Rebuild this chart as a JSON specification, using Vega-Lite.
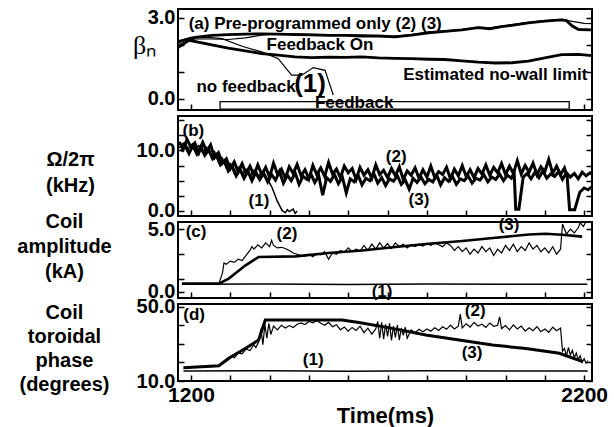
{
"$schema": "https://vega.github.io/schema/vega-lite/v6.json",
"background": "white",
"padding": {"left": 15, "top": 6, "right": 5, "bottom": 0},
"spacing": 6,
"bounds": "flush",
"config": {
 "font": "Liberation Sans",
 "view": {"stroke": "black", "strokeWidth": 2},
 "axis": {"grid": false, "domain": false, "tickColor": "black", "tickSize": -6, "tickWidth": 1.5, "labelColor": "black", "labelFont": "Liberation Sans", "labelFontWeight": "bold", "labelFontSize": 20, "labelPadding": 9, "labelOverlap": false, "labelFlush": false, "titleColor": "black", "titleFont": "Liberation Sans", "titleFontWeight": "bold", "titleFontSize": 20}
},
"datasets": {
 "afb": [{"start": 1274, "end": 2162, "top": -0.1, "bottom": -0.38}],
 "a1": [{"t":1167,"v":2.15},{"t":1200,"v":2.28},{"t":1250,"v":2.27},{"t":1279,"v":2.23},{"t":1330,"v":1.95},{"t":1380,"v":1.74},{"t":1422,"v":1.49},{"t":1456,"v":0.88},{"t":1482,"v":0.88},{"t":1511,"v":1.16},{"t":1541,"v":1.06},{"t":1562,"v":0.14}],
 "a2": [{"t":1167,"v":2.0},{"t":1190,"v":2.12},{"t":1210,"v":2.22},{"t":1253,"v":2.22},{"t":1295,"v":2.2},{"t":1338,"v":2.26},{"t":1380,"v":2.36},{"t":1422,"v":2.42},{"t":1465,"v":2.41},{"t":1507,"v":2.39},{"t":1550,"v":2.38},{"t":1592,"v":2.37},{"t":1634,"v":2.36},{"t":1677,"v":2.34},{"t":1719,"v":2.33},{"t":1761,"v":2.38},{"t":1804,"v":2.47},{"t":1846,"v":2.52},{"t":1889,"v":2.57},{"t":1931,"v":2.66},{"t":1960,"v":2.62},{"t":1990,"v":2.7},{"t":2016,"v":2.75},{"t":2058,"v":2.84},{"t":2100,"v":2.9},{"t":2143,"v":2.95},{"t":2170,"v":2.87},{"t":2200,"v":2.8},{"t":2220,"v":2.79}],
 "a3": [{"t":1167,"v":2.1},{"t":1190,"v":2.2},{"t":1210,"v":2.28},{"t":1253,"v":2.35},{"t":1295,"v":2.38},{"t":1338,"v":2.4},{"t":1380,"v":2.41},{"t":1422,"v":2.4},{"t":1465,"v":2.38},{"t":1507,"v":2.37},{"t":1550,"v":2.35},{"t":1592,"v":2.35},{"t":1634,"v":2.33},{"t":1677,"v":2.33},{"t":1719,"v":2.3},{"t":1761,"v":2.36},{"t":1804,"v":2.45},{"t":1846,"v":2.5},{"t":1889,"v":2.56},{"t":1931,"v":2.64},{"t":1960,"v":2.6},{"t":1990,"v":2.68},{"t":2016,"v":2.72},{"t":2058,"v":2.82},{"t":2100,"v":2.88},{"t":2143,"v":2.93},{"t":2155,"v":2.9},{"t":2170,"v":2.7},{"t":2186,"v":2.57},{"t":2220,"v":2.56}],
 "alim": [{"t":1167,"v":1.9},{"t":1195,"v":2.17},{"t":1253,"v":2.0},{"t":1295,"v":1.88},{"t":1338,"v":1.78},{"t":1380,"v":1.68},{"t":1422,"v":1.62},{"t":1465,"v":1.56},{"t":1507,"v":1.53},{"t":1550,"v":1.55},{"t":1592,"v":1.54},{"t":1634,"v":1.56},{"t":1677,"v":1.52},{"t":1719,"v":1.5},{"t":1761,"v":1.49},{"t":1804,"v":1.47},{"t":1846,"v":1.46},{"t":1889,"v":1.41},{"t":1931,"v":1.36},{"t":1974,"v":1.33},{"t":2016,"v":1.34},{"t":2058,"v":1.4},{"t":2100,"v":1.52},{"t":2143,"v":1.64},{"t":2186,"v":1.65},{"t":2220,"v":1.6}],
 "anA": [{"t":1516,"v":2.78,"label":"(a) Pre-programmed only (2) (3)"},{"t":1528,"v":1.98,"label":"Feedback On"},{"t":1340,"v":0.44,"label":"no feedback"},{"t":1974,"v":0.89,"label":"Estimated no-wall limit"},{"t":1615,"v":-0.15,"label":"Feedback"}],
 "anA1": [{"t":1503,"v":0.56,"label":"(1)"}],
 "b1": [{"t":1170,"v":10.4},{"t":1180,"v":11.2},{"t":1190,"v":9.9},{"t":1200,"v":11.0},{"t":1210,"v":10.1},{"t":1220,"v":10.8},{"t":1230,"v":9.6},{"t":1240,"v":10.5},{"t":1250,"v":9.2},{"t":1260,"v":9.8},{"t":1270,"v":8.0},{"t":1280,"v":8.7},{"t":1290,"v":7.1},{"t":1300,"v":7.8},{"t":1310,"v":6.2},{"t":1320,"v":7.2},{"t":1330,"v":5.9},{"t":1340,"v":6.9},{"t":1350,"v":5.6},{"t":1360,"v":6.7},{"t":1370,"v":5.5},{"t":1380,"v":6.4},{"t":1390,"v":5.8},{"t":1406,"v":3.9},{"t":1419,"v":1.7},{"t":1432,"v":0.05},{"t":1440,"v":-0.3},{"t":1445,"v":0.2},{"t":1450,"v":-0.1},{"t":1460,"v":0.3},{"t":1465,"v":-0.4},{"t":1470,"v":0.0}],
 "b2": [{"t":1170,"v":11.4},{"t":1180,"v":10.2},{"t":1190,"v":11.8},{"t":1200,"v":10.5},{"t":1210,"v":11.2},{"t":1220,"v":9.6},{"t":1230,"v":11.3},{"t":1240,"v":9.8},{"t":1250,"v":10.9},{"t":1260,"v":8.8},{"t":1270,"v":9.6},{"t":1280,"v":7.9},{"t":1290,"v":8.6},{"t":1300,"v":7.0},{"t":1310,"v":8.1},{"t":1320,"v":6.5},{"t":1330,"v":7.8},{"t":1340,"v":6.2},{"t":1350,"v":7.4},{"t":1360,"v":5.9},{"t":1370,"v":7.6},{"t":1380,"v":6.0},{"t":1390,"v":7.2},{"t":1400,"v":5.6},{"t":1410,"v":7.9},{"t":1420,"v":6.1},{"t":1430,"v":6.9},{"t":1440,"v":5.4},{"t":1450,"v":7.3},{"t":1460,"v":6.2},{"t":1470,"v":7.7},{"t":1480,"v":5.8},{"t":1490,"v":6.8},{"t":1500,"v":5.3},{"t":1510,"v":7.5},{"t":1520,"v":6.0},{"t":1530,"v":7.1},{"t":1540,"v":5.7},{"t":1550,"v":8.0},{"t":1560,"v":6.1},{"t":1570,"v":6.9},{"t":1580,"v":5.5},{"t":1590,"v":7.4},{"t":1600,"v":6.3},{"t":1610,"v":7.0},{"t":1620,"v":5.2},{"t":1630,"v":7.2},{"t":1640,"v":5.9},{"t":1650,"v":6.8},{"t":1660,"v":5.4},{"t":1670,"v":7.6},{"t":1680,"v":6.0},{"t":1690,"v":6.7},{"t":1700,"v":5.5},{"t":1710,"v":7.0},{"t":1720,"v":5.8},{"t":1730,"v":7.3},{"t":1740,"v":5.2},{"t":1750,"v":6.6},{"t":1760,"v":5.9},{"t":1770,"v":7.1},{"t":1780,"v":5.4},{"t":1790,"v":6.8},{"t":1800,"v":5.6},{"t":1810,"v":7.4},{"t":1820,"v":5.5},{"t":1830,"v":6.5},{"t":1840,"v":6.0},{"t":1850,"v":7.2},{"t":1860,"v":5.3},{"t":1870,"v":6.9},{"t":1880,"v":5.8},{"t":1890,"v":7.5},{"t":1900,"v":5.7},{"t":1910,"v":6.8},{"t":1920,"v":5.5},{"t":1930,"v":7.0},{"t":1940,"v":6.1},{"t":1950,"v":7.6},{"t":1960,"v":5.9},{"t":1970,"v":7.2},{"t":1980,"v":6.3},{"t":1990,"v":7.8},{"t":2000,"v":6.0},{"t":2010,"v":7.4},{"t":2020,"v":6.2},{"t":2030,"v":8.3},{"t":2040,"v":6.1},{"t":2050,"v":7.5},{"t":2060,"v":6.4},{"t":2070,"v":7.9},{"t":2080,"v":6.0},{"t":2090,"v":7.3},{"t":2100,"v":6.5},{"t":2110,"v":8.5},{"t":2120,"v":6.2},{"t":2130,"v":7.4},{"t":2140,"v":6.0},{"t":2150,"v":7.1},{"t":2157,"v":5.5},{"t":2163,"v":0.2},{"t":2176,"v":0.2},{"t":2189,"v":3.1},{"t":2200,"v":3.8},{"t":2210,"v":3.5},{"t":2220,"v":4.0}],
 "b3": [{"t":1175,"v":9.8},{"t":1185,"v":11.0},{"t":1195,"v":9.5},{"t":1205,"v":10.8},{"t":1215,"v":9.4},{"t":1225,"v":10.6},{"t":1235,"v":9.2},{"t":1245,"v":10.1},{"t":1255,"v":8.6},{"t":1265,"v":9.3},{"t":1275,"v":7.6},{"t":1285,"v":8.2},{"t":1295,"v":6.6},{"t":1305,"v":7.4},{"t":1315,"v":5.8},{"t":1325,"v":6.9},{"t":1335,"v":5.4},{"t":1345,"v":6.6},{"t":1355,"v":5.0},{"t":1365,"v":6.4},{"t":1375,"v":5.2},{"t":1385,"v":6.2},{"t":1395,"v":4.8},{"t":1405,"v":6.0},{"t":1415,"v":5.1},{"t":1425,"v":6.5},{"t":1435,"v":4.6},{"t":1445,"v":5.9},{"t":1455,"v":5.0},{"t":1465,"v":6.3},{"t":1475,"v":4.4},{"t":1485,"v":5.7},{"t":1495,"v":5.2},{"t":1505,"v":6.1},{"t":1515,"v":4.7},{"t":1525,"v":5.8},{"t":1535,"v":2.6},{"t":1545,"v":5.5},{"t":1555,"v":4.9},{"t":1565,"v":6.0},{"t":1575,"v":4.5},{"t":1585,"v":5.6},{"t":1595,"v":3.0},{"t":1605,"v":5.3},{"t":1615,"v":4.8},{"t":1625,"v":5.9},{"t":1635,"v":4.3},{"t":1645,"v":5.4},{"t":1655,"v":5.0},{"t":1665,"v":6.2},{"t":1675,"v":4.6},{"t":1685,"v":5.5},{"t":1695,"v":4.2},{"t":1705,"v":5.3},{"t":1715,"v":4.9},{"t":1725,"v":5.8},{"t":1735,"v":4.4},{"t":1745,"v":5.1},{"t":1755,"v":3.6},{"t":1765,"v":5.4},{"t":1775,"v":4.7},{"t":1785,"v":5.6},{"t":1795,"v":4.5},{"t":1805,"v":5.2},{"t":1815,"v":4.8},{"t":1825,"v":5.9},{"t":1835,"v":4.3},{"t":1845,"v":5.5},{"t":1855,"v":4.9},{"t":1865,"v":5.7},{"t":1875,"v":4.4},{"t":1885,"v":5.3},{"t":1895,"v":5.0},{"t":1905,"v":5.8},{"t":1915,"v":4.6},{"t":1925,"v":5.4},{"t":1935,"v":5.1},{"t":1945,"v":6.0},{"t":1955,"v":4.8},{"t":1965,"v":5.6},{"t":1975,"v":5.2},{"t":1985,"v":6.1},{"t":1995,"v":5.0},{"t":2005,"v":5.9},{"t":2015,"v":5.4},{"t":2022,"v":6.3},{"t":2026,"v":0.3},{"t":2034,"v":0.3},{"t":2045,"v":5.6},{"t":2055,"v":6.2},{"t":2065,"v":5.3},{"t":2075,"v":6.4},{"t":2085,"v":5.5},{"t":2095,"v":6.6},{"t":2105,"v":5.4},{"t":2115,"v":6.1},{"t":2125,"v":5.7},{"t":2135,"v":6.5},{"t":2145,"v":5.2},{"t":2155,"v":6.3},{"t":2165,"v":5.6},{"t":2175,"v":6.2},{"t":2185,"v":5.3},{"t":2195,"v":6.4},{"t":2205,"v":5.8},{"t":2215,"v":6.3},{"t":2220,"v":6.1}],
 "anB": [{"t":1206,"v":13.25,"label":"(b)"},{"t":1722,"v":8.9,"label":"(2)"},{"t":1373,"v":1.67,"label":"(1)"},{"t":1780,"v":1.75,"label":"(3)"}],
 "c1": [{"t":1177,"v":0.62},{"t":1400,"v":0.64},{"t":1600,"v":0.6},{"t":1800,"v":0.63},{"t":2000,"v":0.61},{"t":2208,"v":0.62}],
 "c2": [{"t":1177,"v":0.66},{"t":1271,"v":0.66},{"t":1280,"v":1.5},{"t":1284,"v":2.3},{"t":1290,"v":2.2},{"t":1300,"v":2.45},{"t":1310,"v":2.35},{"t":1320,"v":2.6},{"t":1330,"v":2.5},{"t":1340,"v":2.9},{"t":1350,"v":3.3},{"t":1355,"v":3.6},{"t":1360,"v":3.4},{"t":1370,"v":3.75},{"t":1380,"v":3.5},{"t":1390,"v":3.9},{"t":1400,"v":3.6},{"t":1405,"v":4.1},{"t":1410,"v":3.7},{"t":1420,"v":3.5},{"t":1430,"v":3.55},{"t":1440,"v":3.45},{"t":1450,"v":3.3},{"t":1460,"v":3.1},{"t":1470,"v":3.0},{"t":1480,"v":2.9},{"t":1490,"v":2.85},{"t":1500,"v":3.0},{"t":1510,"v":2.8},{"t":1520,"v":3.05},{"t":1530,"v":2.95},{"t":1540,"v":3.2},{"t":1550,"v":2.6},{"t":1560,"v":3.1},{"t":1570,"v":3.0},{"t":1580,"v":3.3},{"t":1590,"v":3.15},{"t":1600,"v":3.5},{"t":1610,"v":3.2},{"t":1620,"v":3.4},{"t":1630,"v":3.25},{"t":1640,"v":3.7},{"t":1650,"v":3.3},{"t":1660,"v":3.8},{"t":1670,"v":3.4},{"t":1680,"v":3.9},{"t":1690,"v":3.5},{"t":1700,"v":3.85},{"t":1710,"v":3.45},{"t":1720,"v":3.9},{"t":1730,"v":3.6},{"t":1740,"v":3.8},{"t":1750,"v":3.5},{"t":1760,"v":3.75},{"t":1770,"v":3.6},{"t":1780,"v":3.8},{"t":1790,"v":3.65},{"t":1800,"v":3.85},{"t":1810,"v":3.7},{"t":1820,"v":3.9},{"t":1830,"v":3.75},{"t":1840,"v":3.6},{"t":1850,"v":3.9},{"t":1860,"v":3.7},{"t":1870,"v":3.3},{"t":1880,"v":3.6},{"t":1890,"v":3.2},{"t":1900,"v":3.5},{"t":1910,"v":3.0},{"t":1920,"v":3.4},{"t":1930,"v":3.1},{"t":1940,"v":3.6},{"t":1950,"v":3.2},{"t":1960,"v":3.5},{"t":1970,"v":2.9},{"t":1980,"v":3.4},{"t":1990,"v":3.1},{"t":2000,"v":3.7},{"t":2010,"v":3.3},{"t":2020,"v":3.8},{"t":2030,"v":3.2},{"t":2040,"v":3.6},{"t":2050,"v":3.3},{"t":2060,"v":3.9},{"t":2070,"v":3.4},{"t":2080,"v":3.7},{"t":2090,"v":3.2},{"t":2100,"v":3.5},{"t":2110,"v":3.1},{"t":2120,"v":3.6},{"t":2130,"v":3.0},{"t":2140,"v":3.4},{"t":2145,"v":5.4},{"t":2155,"v":4.6},{"t":2165,"v":5.0},{"t":2175,"v":4.7},{"t":2185,"v":5.1},{"t":2190,"v":5.5},{"t":2198,"v":5.2},{"t":2205,"v":5.6}],
 "c3": [{"t":1177,"v":0.66},{"t":1271,"v":0.66},{"t":1296,"v":1.06},{"t":1338,"v":2.1},{"t":1372,"v":2.78},{"t":1466,"v":2.83},{"t":1550,"v":3.1},{"t":1635,"v":3.3},{"t":1720,"v":3.57},{"t":1805,"v":3.83},{"t":1890,"v":4.05},{"t":1975,"v":4.31},{"t":2060,"v":4.57},{"t":2102,"v":4.63},{"t":2144,"v":4.55},{"t":2195,"v":4.4}],
 "anC": [{"t":1213,"v":4.76,"label":"(c)"},{"t":1444,"v":4.63,"label":"(2)"},{"t":2009,"v":5.36,"label":"(3)"},{"t":1686,"v":0.0,"label":"(1)"}],
 "d1": [{"t":1181,"v":15.4},{"t":1400,"v":15.5},{"t":1600,"v":15.3},{"t":1800,"v":15.5},{"t":2000,"v":15.4},{"t":2209,"v":15.4}],
 "d2": [{"t":1181,"v":17.0},{"t":1271,"v":18.0},{"t":1280,"v":19.5},{"t":1290,"v":20.8},{"t":1296,"v":21.5},{"t":1305,"v":23.5},{"t":1310,"v":22.4},{"t":1320,"v":25.0},{"t":1330,"v":24.6},{"t":1340,"v":27.2},{"t":1350,"v":26.4},{"t":1360,"v":29.5},{"t":1365,"v":28.0},{"t":1372,"v":31.0},{"t":1378,"v":38.0},{"t":1383,"v":29.5},{"t":1388,"v":40.5},{"t":1393,"v":33.0},{"t":1398,"v":41.0},{"t":1403,"v":35.0},{"t":1410,"v":39.5},{"t":1420,"v":37.5},{"t":1430,"v":40.0},{"t":1440,"v":38.5},{"t":1450,"v":39.8},{"t":1460,"v":38.8},{"t":1470,"v":40.5},{"t":1480,"v":41.2},{"t":1490,"v":40.4},{"t":1500,"v":42.0},{"t":1510,"v":41.3},{"t":1520,"v":42.5},{"t":1530,"v":41.0},{"t":1540,"v":40.0},{"t":1550,"v":41.5},{"t":1560,"v":39.2},{"t":1570,"v":40.3},{"t":1580,"v":37.5},{"t":1590,"v":39.0},{"t":1600,"v":36.8},{"t":1610,"v":38.8},{"t":1620,"v":37.2},{"t":1630,"v":39.5},{"t":1640,"v":36.0},{"t":1650,"v":38.4},{"t":1660,"v":35.2},{"t":1670,"v":38.0},{"t":1675,"v":42.0},{"t":1680,"v":33.0},{"t":1685,"v":41.5},{"t":1690,"v":32.5},{"t":1695,"v":40.5},{"t":1700,"v":34.0},{"t":1705,"v":41.0},{"t":1710,"v":31.8},{"t":1715,"v":39.5},{"t":1720,"v":33.5},{"t":1725,"v":40.0},{"t":1730,"v":32.0},{"t":1735,"v":38.5},{"t":1740,"v":34.5},{"t":1745,"v":39.0},{"t":1750,"v":33.0},{"t":1760,"v":37.5},{"t":1770,"v":36.0},{"t":1780,"v":37.8},{"t":1790,"v":36.5},{"t":1800,"v":38.0},{"t":1810,"v":36.8},{"t":1820,"v":38.6},{"t":1830,"v":37.2},{"t":1840,"v":39.2},{"t":1850,"v":37.8},{"t":1860,"v":40.0},{"t":1870,"v":38.0},{"t":1880,"v":39.5},{"t":1885,"v":46.0},{"t":1890,"v":38.5},{"t":1900,"v":40.8},{"t":1910,"v":39.0},{"t":1920,"v":41.5},{"t":1930,"v":39.6},{"t":1940,"v":40.5},{"t":1950,"v":38.8},{"t":1960,"v":41.2},{"t":1970,"v":39.4},{"t":1980,"v":40.0},{"t":1985,"v":44.5},{"t":1990,"v":38.2},{"t":2000,"v":39.8},{"t":2010,"v":37.5},{"t":2020,"v":40.2},{"t":2030,"v":38.0},{"t":2040,"v":39.5},{"t":2050,"v":36.8},{"t":2060,"v":38.6},{"t":2070,"v":37.0},{"t":2080,"v":39.2},{"t":2090,"v":36.5},{"t":2100,"v":38.0},{"t":2110,"v":36.2},{"t":2120,"v":39.0},{"t":2130,"v":37.0},{"t":2140,"v":38.5},{"t":2145,"v":26.0},{"t":2150,"v":27.5},{"t":2155,"v":23.5},{"t":2160,"v":28.0},{"t":2165,"v":24.0},{"t":2170,"v":26.5},{"t":2175,"v":22.5},{"t":2180,"v":25.0},{"t":2185,"v":21.5},{"t":2190,"v":23.5},{"t":2195,"v":20.0},{"t":2200,"v":22.0},{"t":2205,"v":19.5},{"t":2210,"v":21.0}],
 "d3": [{"t":1181,"v":17.1},{"t":1271,"v":18.2},{"t":1296,"v":22.2},{"t":1338,"v":27.5},{"t":1372,"v":32.0},{"t":1389,"v":42.8},{"t":1584,"v":42.8},{"t":1627,"v":41.5},{"t":1712,"v":38.3},{"t":1797,"v":34.7},{"t":1882,"v":32.0},{"t":1967,"v":29.3},{"t":2052,"v":27.5},{"t":2137,"v":24.9},{"t":2196,"v":20.4}],
 "anD": [{"t":1208,"v":45.4,"label":"(d)"},{"t":1511,"v":21.3,"label":"(1)"},{"t":1923,"v":47.6,"label":"(2)"},{"t":1915,"v":24.8,"label":"(3)"}]
},
"vconcat": [
 {
  "width": 414, "height": 101,
  "resolve": {"axis": {"y": "independent"}},
  "layer": [
   {"data": {"name": "afb"}, "mark": {"type": "rect", "fill": "white", "stroke": "black", "strokeWidth": 1.3},
    "encoding": {
     "x": {"field": "start", "type": "quantitative", "scale": {"domain": [1167, 2220], "nice": false, "zero": false},
           "axis": {"values": [1200,1300,1400,1500,1600,1700,1800,1900,2000,2100,2200], "labels": false, "title": null}},
     "x2": {"field": "end"},
     "y": {"field": "top", "type": "quantitative", "scale": {"domain": [-0.41, 3.33], "nice": false, "zero": false},
           "axis": {"values": [0,1,2,3], "labelOverlap": false, "labelExpr": "datum.value == 0 || datum.value == 3 ? format(datum.value, '.1f') : ''",
                    "title": "βₙ", "titleFont": "Liberation Serif", "titleFontWeight": "normal", "titleFontSize": 26, "titleAngle": 0, "titleAlign": "center", "titleBaseline": "middle", "titleX": -34, "titleY": 36}},
     "y2": {"field": "bottom"}
    }},
   {"data": {"name": "alim"}, "mark": {"type": "line", "color": "black", "strokeWidth": 2.8, "clip": true}, "encoding": {"x": {"field": "t", "type": "quantitative"}, "y": {"field": "v", "type": "quantitative", "axis": null}}},
   {"data": {"name": "a3"}, "mark": {"type": "line", "color": "black", "strokeWidth": 2.8, "clip": true}, "encoding": {"x": {"field": "t", "type": "quantitative"}, "y": {"field": "v", "type": "quantitative", "axis": null}}},
   {"data": {"name": "a2"}, "mark": {"type": "line", "color": "black", "strokeWidth": 1.2, "clip": true}, "encoding": {"x": {"field": "t", "type": "quantitative"}, "y": {"field": "v", "type": "quantitative", "axis": null}}},
   {"data": {"name": "a1"}, "mark": {"type": "line", "color": "black", "strokeWidth": 1.2, "clip": true}, "encoding": {"x": {"field": "t", "type": "quantitative"}, "y": {"field": "v", "type": "quantitative", "axis": null}}},
   {"data": {"name": "anA"}, "mark": {"type": "text", "font": "Liberation Sans", "fontWeight": "bold", "fontSize": 17, "align": "center", "baseline": "middle", "color": "black"},
    "encoding": {"x": {"field": "t", "type": "quantitative"}, "y": {"field": "v", "type": "quantitative", "axis": null}, "text": {"field": "label"}}},
   {"data": {"name": "anA1"}, "mark": {"type": "text", "font": "Liberation Sans", "fontWeight": "bold", "fontSize": 26, "align": "center", "baseline": "middle", "color": "black"},
    "encoding": {"x": {"field": "t", "type": "quantitative"}, "y": {"field": "v", "type": "quantitative", "axis": null}, "text": {"field": "label"}}},
   {"data": {"name": "alim"}, "mark": {"type": "point", "opacity": 0}, "encoding": {"x": {"field": "t", "type": "quantitative"}, "y": {"field": "v", "type": "quantitative", "axis": {"orient": "right", "values": [0,1,2,3], "labels": false, "title": null}}}}
  ]
 },
 {
  "width": 414, "height": 100,
  "resolve": {"axis": {"y": "independent"}},
  "layer": [
   {"data": {"name": "b3"}, "mark": {"type": "line", "color": "black", "strokeWidth": 3, "clip": true},
    "encoding": {
     "x": {"field": "t", "type": "quantitative", "scale": {"domain": [1167, 2220], "nice": false, "zero": false},
           "axis": {"values": [1200,1300,1400,1500,1600,1700,1800,1900,2000,2100,2200], "labels": false, "title": null}},
     "y": {"field": "v", "type": "quantitative", "scale": {"domain": [-0.83, 15.67], "nice": false, "zero": false},
           "axis": {"values": [0,2.5,5,7.5,10,12.5,15], "labelOverlap": false, "labelExpr": "datum.value == 0 || datum.value == 10 ? format(datum.value, '.1f') : ''",
                    "title": ["Ω/2π", "(kHz)"], "titleLineHeight": 26, "titleAngle": 0, "titleAlign": "center", "titleBaseline": "middle", "titleX": -108, "titleY": 43}}
    }},
   {"data": {"name": "b2"}, "mark": {"type": "line", "color": "black", "strokeWidth": 3, "clip": true}, "encoding": {"x": {"field": "t", "type": "quantitative"}, "y": {"field": "v", "type": "quantitative", "axis": null}}},
   {"data": {"name": "b1"}, "mark": {"type": "line", "color": "black", "strokeWidth": 1.5, "clip": true}, "encoding": {"x": {"field": "t", "type": "quantitative"}, "y": {"field": "v", "type": "quantitative", "axis": null}}},
   {"data": {"name": "anB"}, "mark": {"type": "text", "font": "Liberation Sans", "fontWeight": "bold", "fontSize": 17, "align": "center", "baseline": "middle", "color": "black"},
    "encoding": {"x": {"field": "t", "type": "quantitative"}, "y": {"field": "v", "type": "quantitative", "axis": null}, "text": {"field": "label"}}},
   {"data": {"name": "b1"}, "mark": {"type": "point", "opacity": 0}, "encoding": {"x": {"field": "t", "type": "quantitative"}, "y": {"field": "v", "type": "quantitative", "axis": {"orient": "right", "values": [0,2.5,5,7.5,10,12.5,15], "labels": false, "title": null}}}}
  ]
 },
 {
  "width": 414, "height": 76,
  "resolve": {"axis": {"y": "independent"}},
  "layer": [
   {"data": {"name": "c1"}, "mark": {"type": "line", "color": "black", "strokeWidth": 1.5, "clip": true},
    "encoding": {
     "x": {"field": "t", "type": "quantitative", "scale": {"domain": [1167, 2220], "nice": false, "zero": false},
           "axis": {"values": [1200,1300,1400,1500,1600,1700,1800,1900,2000,2100,2200], "labels": false, "title": null}},
     "y": {"field": "v", "type": "quantitative", "scale": {"domain": [-0.48, 5.56], "nice": false, "zero": false},
           "axis": {"values": [0,1,3,5], "labelOverlap": false, "labelExpr": "datum.value == 0 || datum.value == 5 ? format(datum.value, '.1f') : ''",
                    "title": ["Coil", "amplitude", "(kA)"], "titleLineHeight": 25, "titleAngle": 0, "titleAlign": "center", "titleBaseline": "middle", "titleX": -114, "titleY": -1}}
    }},
   {"data": {"name": "c3"}, "mark": {"type": "line", "color": "black", "strokeWidth": 2.6, "clip": true}, "encoding": {"x": {"field": "t", "type": "quantitative"}, "y": {"field": "v", "type": "quantitative", "axis": null}}},
   {"data": {"name": "c2"}, "mark": {"type": "line", "color": "black", "strokeWidth": 1.2, "clip": true}, "encoding": {"x": {"field": "t", "type": "quantitative"}, "y": {"field": "v", "type": "quantitative", "axis": null}}},
   {"data": {"name": "anC"}, "mark": {"type": "text", "font": "Liberation Sans", "fontWeight": "bold", "fontSize": 17, "align": "center", "baseline": "middle", "color": "black"},
    "encoding": {"x": {"field": "t", "type": "quantitative"}, "y": {"field": "v", "type": "quantitative", "axis": null}, "text": {"field": "label"}}},
   {"data": {"name": "c1"}, "mark": {"type": "point", "opacity": 0}, "encoding": {"x": {"field": "t", "type": "quantitative"}, "y": {"field": "v", "type": "quantitative", "axis": {"orient": "right", "values": [0,1,3,5], "labels": false, "title": null}}}}
  ]
 },
 {
  "width": 414, "height": 77,
  "resolve": {"axis": {"y": "independent"}},
  "layer": [
   {"data": {"name": "d1"}, "mark": {"type": "line", "color": "black", "strokeWidth": 1.5, "clip": true},
    "encoding": {
     "x": {"field": "t", "type": "quantitative", "scale": {"domain": [1167, 2220], "nice": false, "zero": false},
           "axis": {"values": [1200,1300,1400,1500,1600,1700,1800,1900,2000,2100,2200], "labelExpr": "datum.value == 1200 || datum.value == 2200 ? format(datum.value, 'd') : ''",
                    "labelFontSize": 21, "labelPadding": 9, "title": "Time(ms)", "titleFontSize": 22, "titlePadding": 0}},
     "y": {"field": "v", "type": "quantitative", "scale": {"domain": [10, 51.4], "nice": false, "zero": false},
           "axis": {"values": [10,20,30,40,50], "labelOverlap": false, "labelExpr": "datum.value == 10 || datum.value == 50 ? format(datum.value, '.1f') : ''",
                    "title": ["Coil", "toroidal", "phase", "(degrees)"], "titleLineHeight": 24, "titleAngle": 0, "titleAlign": "center", "titleBaseline": "middle", "titleX": -114, "titleY": 8}}
    }},
   {"data": {"name": "d3"}, "mark": {"type": "line", "color": "black", "strokeWidth": 3, "clip": true}, "encoding": {"x": {"field": "t", "type": "quantitative"}, "y": {"field": "v", "type": "quantitative", "axis": null}}},
   {"data": {"name": "d2"}, "mark": {"type": "line", "color": "black", "strokeWidth": 1.2, "clip": true}, "encoding": {"x": {"field": "t", "type": "quantitative"}, "y": {"field": "v", "type": "quantitative", "axis": null}}},
   {"data": {"name": "anD"}, "mark": {"type": "text", "font": "Liberation Sans", "fontWeight": "bold", "fontSize": 17, "align": "center", "baseline": "middle", "color": "black"},
    "encoding": {"x": {"field": "t", "type": "quantitative"}, "y": {"field": "v", "type": "quantitative", "axis": null}, "text": {"field": "label"}}},
   {"data": {"name": "d1"}, "mark": {"type": "point", "opacity": 0}, "encoding": {"x": {"field": "t", "type": "quantitative"}, "y": {"field": "v", "type": "quantitative", "axis": {"orient": "right", "values": [10,20,30,40,50], "labels": false, "title": null}}}}
  ]
 }
]
}
